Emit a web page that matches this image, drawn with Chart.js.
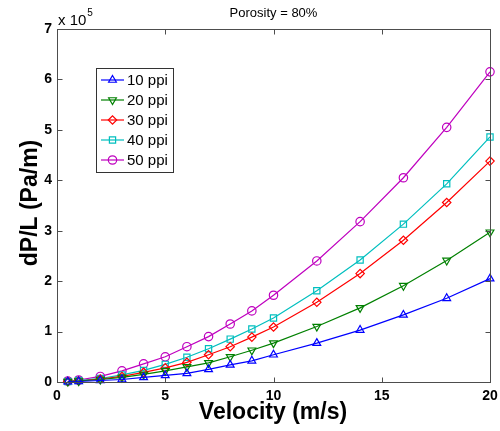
<!DOCTYPE html>
<html>
<head>
<meta charset="utf-8">
<script src="https://cdn.jsdelivr.net/npm/chart.js@4.4.1/dist/chart.umd.min.js"></script>
<style>
  html, body { margin: 0; padding: 0; background: #fff; }
  #wrap { width: 500px; height: 431px; position: relative; }
</style>
</head>
<body>
<div id="wrap"><canvas id="c" width="500" height="431"></canvas></div>
<script>
// Pressure drop per unit length (units of 1e5 Pa/m) against air velocity (m/s)
const velocity = [0.5, 1, 2, 3, 4, 5, 6, 7, 8, 9, 10, 12, 14, 16, 18, 20];
const ppi10 = [0.005, 0.01, 0.03, 0.05, 0.09, 0.13, 0.17, 0.25, 0.34, 0.42, 0.54, 0.77, 1.03, 1.33, 1.66, 2.05];
const ppi20 = [0.01, 0.02, 0.05, 0.09, 0.15, 0.22, 0.30, 0.38, 0.50, 0.63, 0.77, 1.10, 1.47, 1.91, 2.41, 2.97];
const ppi30 = [0.01, 0.02, 0.06, 0.11, 0.19, 0.28, 0.39, 0.54, 0.70, 0.89, 1.09, 1.58, 2.15, 2.81, 3.56, 4.38];
const ppi40 = [0.01, 0.03, 0.07, 0.14, 0.23, 0.35, 0.49, 0.66, 0.85, 1.05, 1.27, 1.81, 2.42, 3.13, 3.93, 4.86];
const ppi50 = [0.02, 0.04, 0.11, 0.22, 0.36, 0.50, 0.70, 0.90, 1.15, 1.41, 1.72, 2.40, 3.18, 4.05, 5.05, 6.15];
const seriesLabels = ['10 ppi', '20 ppi', '30 ppi', '40 ppi', '50 ppi'];
const xTicks = [0, 5, 10, 15, 20];
const yTicks = [0, 1, 2, 3, 4, 5, 6, 7];

const FONT = '"Liberation Sans", Arial, sans-serif';

const styles = [
  { color: '#0000ff', pointStyle: 'triangle', rotation: 0,   radius: 4.5 },
  { color: '#008000', pointStyle: 'triangle', rotation: 180, radius: 4.5 },
  { color: '#ff0000', pointStyle: 'rectRot',  rotation: 0,   radius: 4.2 },
  { color: '#00bfbf', pointStyle: 'rect',     rotation: 0,   radius: 4.4 },
  { color: '#bf00bf', pointStyle: 'circle',   rotation: 0,   radius: 4.2 }
];

const seriesValues = [ppi10, ppi20, ppi30, ppi40, ppi50];

const datasets = seriesValues.map((vals, i) => ({
  label: seriesLabels[i],
  data: velocity.map((v, k) => ({ x: v, y: vals[k] })),
  borderColor: styles[i].color,
  backgroundColor: 'rgba(0,0,0,0)',
  borderWidth: 1.2,
  pointStyle: styles[i].pointStyle,
  pointRotation: styles[i].rotation,
  pointRadius: styles[i].radius,
  pointBorderWidth: 1.2,
  pointBorderColor: styles[i].color,
  pointBackgroundColor: 'rgba(0,0,0,0)',
  tension: 0,
  clip: false
}));

// Axes box with inward ticks on all four sides, titles and legend
const decorations = {
  id: 'decorations',
  afterDraw(chart) {
    const ctx = chart.ctx;
    const a = chart.chartArea;
    const xs = chart.scales.x, ys = chart.scales.y;
    const L = Math.round(a.left) + 0.5, R = Math.round(a.right) + 0.5;
    const T = Math.round(a.top) + 0.5, B = Math.round(a.bottom) + 0.5;
    ctx.save();
    ctx.strokeStyle = '#4d4d4d';
    ctx.lineWidth = 1;
    ctx.strokeRect(L, T, R - L, B - T);
    const tl = 5;
    ctx.beginPath();
    xTicks.forEach(v => {
      const px = Math.round(xs.getPixelForValue(v)) + 0.5;
      ctx.moveTo(px, B); ctx.lineTo(px, B - tl);
      ctx.moveTo(px, T); ctx.lineTo(px, T + tl);
    });
    yTicks.forEach(v => {
      const py = Math.round(ys.getPixelForValue(v)) + 0.5;
      ctx.moveTo(L, py); ctx.lineTo(L + tl, py);
      ctx.moveTo(R, py); ctx.lineTo(R - tl, py);
    });
    ctx.stroke();

    ctx.fillStyle = '#000';
    // title
    ctx.font = '13px ' + FONT;
    ctx.textAlign = 'center';
    ctx.textBaseline = 'middle';
    ctx.fillText('Porosity = 80%', 273.5, 13);
    // exponent label
    ctx.font = '15px ' + FONT;
    ctx.textAlign = 'left';
    ctx.fillText('x 10', 58, 21);
    const w = ctx.measureText('x 10').width;
    ctx.font = '10px ' + FONT;
    ctx.fillText('5', 58 + w + 1, 13);
    // axis titles
    ctx.font = 'bold 23px ' + FONT;
    ctx.textAlign = 'center';
    ctx.fillText('Velocity (m/s)', 273, 413);
    ctx.save();
    ctx.translate(31, 203);
    ctx.rotate(-Math.PI / 2);
    ctx.fillText('dP/L (Pa/m)', 0, 0);
    ctx.restore();

    // legend
    const bx = 96.5, by = 68.5, bw = 77, bh = 104;
    ctx.fillStyle = '#fff';
    ctx.fillRect(bx, by, bw, bh);
    ctx.strokeStyle = '#333';
    ctx.strokeRect(bx, by, bw, bh);
    chart.data.datasets.forEach((ds, i) => {
      const cy = 80 + i * 20;
      ctx.strokeStyle = ds.borderColor;
      ctx.lineWidth = 1.2;
      ctx.beginPath();
      ctx.moveTo(101, cy); ctx.lineTo(124, cy);
      ctx.stroke();
      ctx.fillStyle = 'rgba(0,0,0,0)';
      Chart.helpers.drawPoint(ctx, {
        pointStyle: ds.pointStyle, rotation: ds.pointRotation,
        radius: ds.pointRadius, borderWidth: 1.2
      }, 112.5, cy);
      ctx.fillStyle = '#000';
      ctx.font = '15px ' + FONT;
      ctx.textAlign = 'left';
      ctx.fillText(ds.label, 127, cy + 1);
    });
    ctx.restore();
  }
};

new Chart(document.getElementById('c'), {
  type: 'line',
  data: { datasets },
  plugins: [decorations],
  options: {
    responsive: false,
    animation: false,
    devicePixelRatio: 1,
    layout: { autoPadding: false, padding: { left: 0, right: 10, top: 29, bottom: 0 } },
    plugins: { legend: { display: false }, tooltip: { enabled: false }, title: { display: false } },
    scales: {
      x: {
        type: 'linear', min: 0, max: 20,
        afterFit(s) { s.height = 49; s.paddingLeft = 0; s.paddingRight = 0; },
        afterBuildTicks(s) { s.ticks = xTicks.map(v => ({ value: v })); },
        grid: { display: false, drawTicks: false },
        border: { display: false },
        ticks: { color: '#000', padding: 6, font: { family: FONT, size: 14, weight: 'bold' }, maxRotation: 0 }
      },
      y: {
        type: 'linear', min: 0, max: 7,
        afterFit(s) { s.width = 57; s.paddingTop = 0; s.paddingBottom = 0; },
        afterBuildTicks(s) { s.ticks = yTicks.map(v => ({ value: v })); },
        grid: { display: false, drawTicks: false },
        border: { display: false },
        ticks: { color: '#000', padding: 5, font: { family: FONT, size: 14, weight: 'bold' } }
      }
    }
  }
});
</script>
</body>
</html>
